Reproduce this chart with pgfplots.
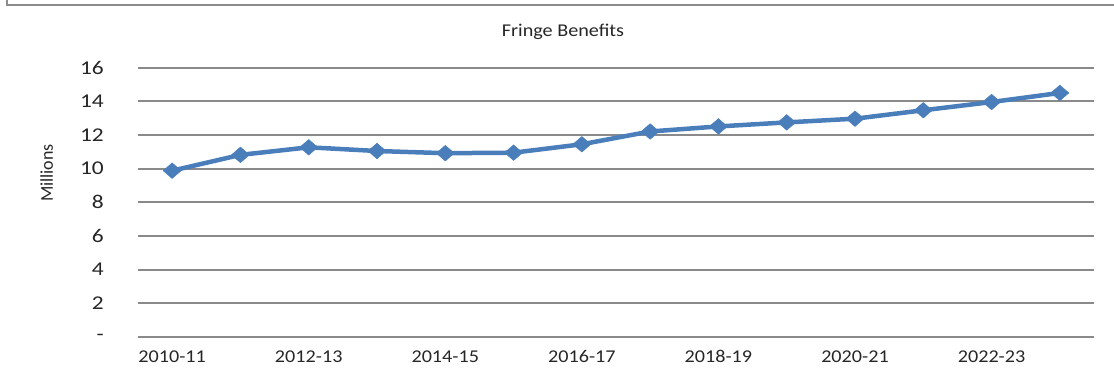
\documentclass[border=0pt]{standalone}
\usepackage{pgfplots}
\pgfplotsset{compat=1.18}
\usepackage{fontspec}
\setmainfont{Carlito}

\definecolor{seriesblue}{HTML}{4A7EBB}
\definecolor{gridgray}{HTML}{8A8A8A}
\definecolor{framegray}{HTML}{8C8C8C}
\definecolor{textgray}{HTML}{262626}

\begin{document}
\begin{tikzpicture}
  % canvas and the chart frame (top and left edges)
  \path[use as bounding box] (0pt,0pt) rectangle (1114pt,379pt);
  \draw[framegray, line width=2pt] (7pt,379pt) -- (7pt,374pt) -- (1114pt,374pt);

  \node[font=\fontsize{18}{20}\selectfont, text=textgray, xscale=1.12, anchor=base]
    at (563pt,342pt) {Fringe Benefits};
  \node[font=\fontsize{18}{20}\selectfont, text=textgray, rotate=90]
    at (46.7pt,206pt) {Millions};

  \begin{axis}[
    at={(138pt,42pt)}, anchor=south west,
    width=956pt, height=269.3pt, scale only axis,
    xmin=-0.5, xmax=13.5,
    ymin=0, ymax=16,
    ytick={0,2,...,16},
    yticklabels={-,2,4,6,8,10,12,14,16},
    xtick={0,2,...,12},
    xticklabels={2010-11,2012-13,2014-15,2016-17,2018-19,2020-21,2022-23},
    axis line style={draw=none},
    major tick length=0pt,
    ymajorgrids,
    grid style={gridgray, line width=2pt},
    yticklabel style={font=\fontsize{19.5}{21}\selectfont, text=textgray,
      xscale=1.2, anchor=east, xshift=-25pt},
    xticklabel style={font=\fontsize{18}{20}\selectfont, text=textgray,
      xscale=1.12, anchor=north, yshift=-10pt},
    clip=false,
  ]
    \addplot[seriesblue, line width=4.5pt, line join=round,
      mark=square*, mark size=5.5pt,
      mark options={solid, xscale=1.15, rotate=45, fill=seriesblue, draw=seriesblue, line width=0.5pt}]
      coordinates {
        (0,9.88) (1,10.82) (2,11.27) (3,11.05) (4,10.92) (5,10.95) (6,11.45)
        (7,12.21) (8,12.51) (9,12.75) (10,12.97) (11,13.47) (12,13.96) (13,14.50)
      };
  \end{axis}
\end{tikzpicture}
\end{document}
